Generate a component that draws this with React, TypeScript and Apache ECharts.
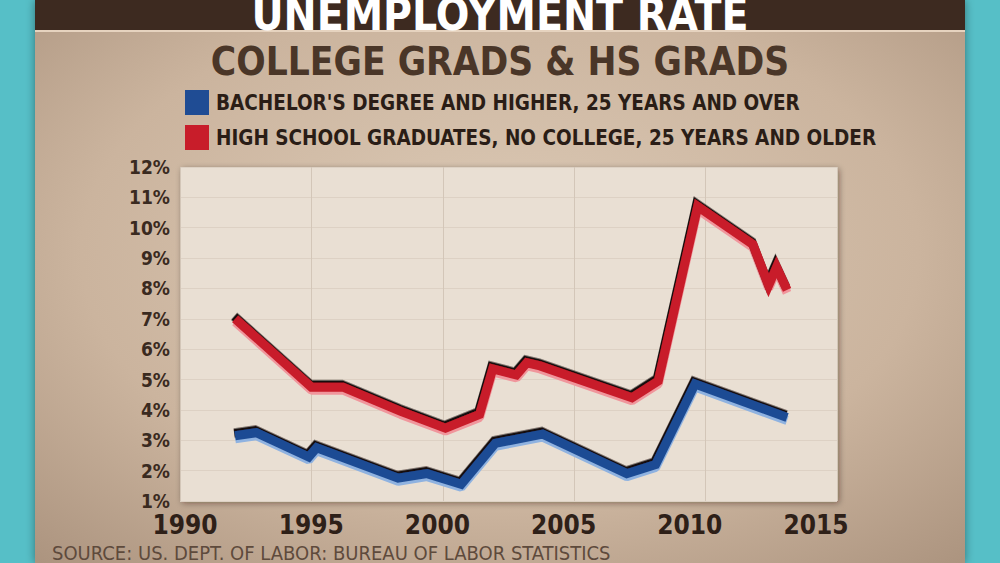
import React, { useEffect, useRef } from "react";
import * as echarts from "echarts";

const xTicks = [1990, 1995, 2000, 2005, 2010, 2015];
const yTicks = [1, 2, 3, 4, 5, 6, 7, 8, 9, 10, 11, 12];

const hsName = "HIGH SCHOOL GRADUATES, NO COLLEGE, 25 YEARS AND OLDER";
const hsYears = [1992.1, 1995.0, 1996.2, 1998.4, 2000.1, 2001.4, 2001.9, 2002.8, 2003.2, 2003.7, 2007.2, 2008.2, 2009.7, 2011.8, 2012.4, 2012.7, 2013.1];
const hsValues = [7.0, 4.75, 4.75, 3.95, 3.4, 3.85, 5.35, 5.15, 5.55, 5.45, 4.4, 4.95, 10.7, 9.45, 8.1, 8.7, 7.95];

const baName = "BACHELOR'S DEGREE AND HIGHER, 25 YEARS AND OVER";
const baYears = [1992.1, 1992.9, 1994.9, 1995.2, 1998.3, 1999.4, 2000.7, 2002.0, 2003.8, 2007.0, 2008.1, 2009.6, 2013.1];
const baValues = [3.15, 3.25, 2.45, 2.75, 1.75, 1.9, 1.55, 2.9, 3.2, 1.9, 2.2, 4.85, 3.75];

const FONT = '"DejaVu Sans Condensed", "DejaVu Sans", sans-serif';

export default function App() {
  const ref = useRef<HTMLDivElement>(null);
  useEffect(() => {
    if (!ref.current) return;
    const chart = echarts.init(ref.current, null, { renderer: "svg" });
    const hsData = hsYears.map((y, i) => [y, hsValues[i]]);
    const baData = baYears.map((y, i) => [y, baValues[i]]);

    const lineSeries = (name: string, data: number[][], main: string, light: string) => [
      {
        type: "line",
        name: name + " shadow",
        data,
        xAxisIndex: 0,
        yAxisIndex: 0,
        symbol: "none",
        silent: true,
        z: 2,
        lineStyle: { color: light, width: 9, shadowColor: light, shadowOffsetY: 3, shadowBlur: 0.1 },
        itemStyle: { color: light },
      },
      {
        type: "line",
        name,
        data,
        xAxisIndex: 0,
        yAxisIndex: 0,
        symbol: "none",
        z: 3,
        lineStyle: { color: main, width: 9, shadowColor: "#120a08", shadowOffsetY: -2.5, shadowOffsetX: -1, shadowBlur: 0.1, join: "miter" },
        itemStyle: { color: main },
      },
    ];

    chart.setOption({
      animation: false,
      backgroundColor: "#56bfc7",
      graphic: [
        {
          type: "rect",
          z: -10,
          shape: { x: 35, y: 0, width: 930, height: 563 },
          style: {
            fill: new echarts.graphic.RadialGradient(0.5, 0.45, 0.75, [
              { offset: 0, color: "#dccab6" },
              { offset: 0.6, color: "#cbb49e" },
              { offset: 1, color: "#ab937e" },
            ]),
            shadowBlur: 10,
            shadowColor: "rgba(0,0,0,0.4)",
          },
        },
        { type: "rect", z: -9, shape: { x: 35, y: 0, width: 930, height: 30 }, style: { fill: "#3d2a20" } },
        { type: "rect", z: -9, shape: { x: 35, y: 30, width: 930, height: 2 }, style: { fill: "#e6d3bf" } },
        {
          type: "text",
          z: 5,
          left: 52,
          top: 543,
          style: { text: "SOURCE: US. DEPT. OF LABOR: BUREAU OF LABOR STATISTICS", fill: "#5e4a3c", font: `20px ${FONT}` },
        },
      ],
      title: [
        {
          text: "UNEMPLOYMENT RATE",
          left: "center",
          top: -13,
          textStyle: { color: "#ffffff", fontSize: 44, fontWeight: "bold", fontFamily: FONT },
        },
        {
          text: "COLLEGE GRADS & HS GRADS",
          left: "center",
          top: 37,
          textStyle: { color: "#4a3628", fontSize: 38.5, fontWeight: "bold", fontFamily: FONT },
        },
      ],
      legend: {
        data: [baName, hsName],
        orient: "vertical",
        left: 180,
        top: 85,
        icon: "rect",
        itemWidth: 24,
        itemHeight: 25,
        itemGap: 10,
        textStyle: { color: "#2a1d16", fontSize: 20.5, fontWeight: "bold", fontFamily: FONT, padding: [0, 0, 0, 2] },
      },
      grid: [
        {
          left: 180,
          right: 163,
          top: 167,
          bottom: 62,
          show: true,
          backgroundColor: "#e9dfd3",
          borderWidth: 0,
          shadowBlur: 6,
          shadowColor: "rgba(40,20,10,0.45)",
          shadowOffsetX: 2,
          shadowOffsetY: 2,
        },
        { left: 185, right: 184, top: 500, height: 2 },
      ],
      xAxis: [
        {
          type: "value",
          gridIndex: 0,
          min: 1990,
          max: 2015,
          interval: 5,
          axisLine: { show: false },
          axisTick: { show: false },
          axisLabel: { show: false },
          splitLine: { show: true, lineStyle: { color: "#d3c6b8", width: 1 } },
        },
        {
          type: "value",
          gridIndex: 1,
          min: xTicks[0],
          max: xTicks[xTicks.length - 1],
          interval: 5,
          axisLine: { show: false },
          axisTick: { show: false },
          splitLine: { show: false },
          axisLabel: {
            margin: 10,
            color: "#2e2018",
            fontSize: 26,
            lineHeight: 26,
            fontWeight: "bold",
            fontFamily: FONT,
            formatter: (v: number) => String(v),
          },
        },
      ],
      yAxis: [
        {
          type: "value",
          gridIndex: 0,
          min: yTicks[0],
          max: yTicks[yTicks.length - 1],
          interval: 1,
          axisLine: { show: false },
          axisTick: { show: false },
          splitLine: { show: true, lineStyle: { color: "#ddd1c4", width: 1 } },
          axisLabel: {
            margin: 10,
            color: "#3a2a20",
            fontSize: 19,
            lineHeight: 19,
            fontWeight: "bold",
            fontFamily: FONT,
            formatter: (v: number) => v + "%",
          },
        },
        { type: "value", gridIndex: 1, show: false, min: 0, max: 1 },
      ],
      series: [
        ...lineSeries(hsName, hsData, "#c81d2a", "#f0969c"),
        ...lineSeries(baName, baData, "#1f4c94", "#8fb2e0"),
      ],
    });
    return () => chart.dispose();
  }, []);
  return <div ref={ref} style={{ position: "fixed", left: 0, top: 0, width: 1000, height: 563 }} />;
}
